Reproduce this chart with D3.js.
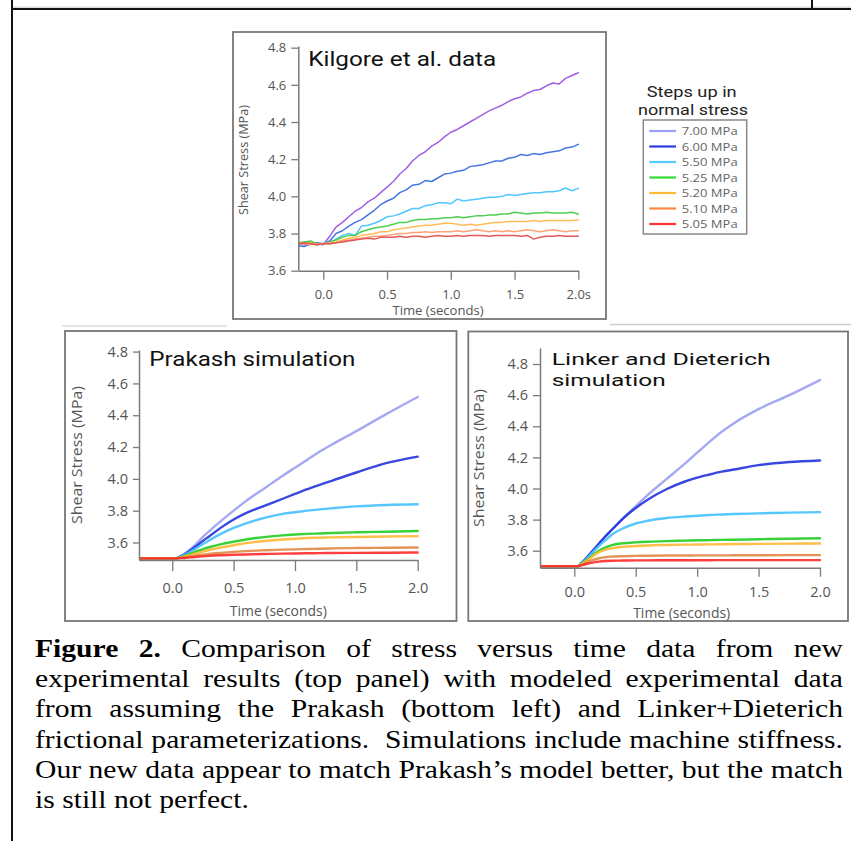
<!DOCTYPE html>
<html><head><meta charset="utf-8">
<script src="https://cdn.jsdelivr.net/npm/d3@7"></script>
<style>body{margin:0;background:#fff}svg{display:block}</style>
</head><body>
<svg id="c" width="851" height="841"></svg>
<script>
// ---------------- DATA ----------------
const legendLabels = ["7.00 MPa","6.00 MPa","5.50 MPa","5.25 MPa","5.20 MPa","5.10 MPa","5.05 MPa"];
const legendColors = ["#99a0f5","#2a3be0","#55ccff","#33dd33","#ffbb33","#ff8844","#ff3333"];
const topColors    = ["#9b59e0","#3b6fe0","#44c4ff","#44cc44","#ffb84d","#ff9e6e","#e05050"];
const simColors    = ["#9aa0f0","#2233dd","#44c0ff","#22cc22","#ffb733","#e08844","#ff2a2a"];

const yTickVals = [3.6,3.8,4.0,4.2,4.4,4.6,4.8];
const xTickVals = [0,0.5,1.0,1.5,2.0];
const topXLabels = ["0.0","0.5","1.0","1.5","2.0s"];
const simXLabels = ["0.0","0.5","1.0","1.5","2.0"];

// Kilgore et al. data (top panel)
const tTop = [-0.2,-0.15,-0.1,-0.05,0,0.05,0.1,0.15,0.2,0.25,0.3,0.35,0.4,0.45,0.5,0.55,0.6,0.65,0.7,0.75,0.8,0.85,0.9,0.95,1.0,1.05,1.1,1.15,1.2,1.25,1.3,1.35,1.4,1.45,1.5,1.55,1.6,1.65,1.7,1.75,1.8,1.85,1.9,1.95,2.0];
const kil700 = [3.745,3.74,3.75,3.745,3.74,3.785,3.835,3.86,3.89,3.92,3.94,3.97,3.99,4.02,4.05,4.08,4.12,4.15,4.19,4.22,4.24,4.27,4.29,4.32,4.345,4.36,4.38,4.40,4.42,4.44,4.46,4.475,4.49,4.51,4.525,4.535,4.555,4.57,4.575,4.595,4.61,4.605,4.635,4.65,4.665];
const kil600 = [3.735,3.73,3.745,3.75,3.745,3.76,3.80,3.815,3.84,3.86,3.875,3.90,3.925,3.955,3.975,3.99,4.02,4.035,4.06,4.065,4.085,4.08,4.10,4.12,4.125,4.135,4.14,4.16,4.165,4.17,4.18,4.19,4.19,4.205,4.21,4.225,4.22,4.23,4.225,4.235,4.24,4.245,4.26,4.265,4.28];
const kil550 = [3.745,3.75,3.745,3.74,3.745,3.75,3.77,3.79,3.80,3.79,3.84,3.845,3.855,3.87,3.89,3.895,3.905,3.92,3.935,3.935,3.95,3.955,3.965,3.965,3.96,3.985,3.975,3.98,3.985,3.99,3.995,3.995,4.0,4.01,4.005,4.01,4.015,4.02,4.02,4.025,4.025,4.03,4.045,4.03,4.043];
const kil525 = [3.75,3.755,3.76,3.745,3.745,3.755,3.765,3.78,3.79,3.79,3.81,3.82,3.83,3.835,3.84,3.85,3.86,3.86,3.87,3.875,3.875,3.88,3.88,3.885,3.885,3.89,3.885,3.89,3.895,3.895,3.9,3.9,3.905,3.905,3.915,3.91,3.905,3.91,3.91,3.915,3.91,3.91,3.91,3.915,3.905];
const kil520 = [3.745,3.745,3.75,3.74,3.745,3.75,3.755,3.765,3.775,3.78,3.79,3.795,3.80,3.81,3.81,3.82,3.825,3.83,3.835,3.84,3.845,3.845,3.85,3.855,3.855,3.85,3.845,3.85,3.845,3.85,3.855,3.86,3.86,3.865,3.865,3.865,3.865,3.87,3.865,3.87,3.87,3.87,3.87,3.87,3.873];
const kil510 = [3.75,3.745,3.74,3.745,3.745,3.745,3.75,3.76,3.765,3.77,3.775,3.78,3.785,3.785,3.79,3.795,3.80,3.80,3.805,3.805,3.81,3.805,3.81,3.81,3.81,3.815,3.81,3.815,3.82,3.815,3.81,3.815,3.81,3.815,3.81,3.815,3.82,3.815,3.81,3.815,3.82,3.815,3.81,3.815,3.815];
const kil505 = [3.745,3.75,3.745,3.74,3.745,3.745,3.75,3.755,3.76,3.765,3.77,3.775,3.77,3.78,3.78,3.78,3.785,3.78,3.785,3.785,3.78,3.785,3.79,3.785,3.785,3.79,3.785,3.79,3.79,3.79,3.785,3.79,3.79,3.79,3.79,3.785,3.79,3.77,3.78,3.785,3.785,3.79,3.785,3.785,3.785];

// Simulations (bottom panels)
const tSim = [-0.27,0.03,0.05,0.1,0.15,0.2,0.25,0.3,0.4,0.5,0.6,0.75,0.9,1.0,1.1,1.2,1.3,1.5,1.75,2.0];
const pra700 = [3.5,3.5,3.507,3.53,3.56,3.595,3.635,3.67,3.737,3.80,3.86,3.94,4.02,4.07,4.12,4.17,4.215,4.30,4.41,4.515];
const pra600 = [3.5,3.5,3.506,3.526,3.552,3.58,3.61,3.638,3.695,3.745,3.785,3.83,3.875,3.905,3.935,3.962,3.988,4.04,4.10,4.14];
const pra550 = [3.5,3.5,3.505,3.522,3.543,3.566,3.59,3.613,3.656,3.692,3.72,3.755,3.78,3.79,3.80,3.808,3.815,3.827,3.836,3.84];
const pra525 = [3.5,3.5,3.504,3.515,3.53,3.545,3.558,3.57,3.59,3.605,3.619,3.634,3.645,3.65,3.654,3.657,3.66,3.664,3.668,3.672];
const pra520 = [3.5,3.5,3.503,3.512,3.522,3.533,3.543,3.553,3.569,3.583,3.596,3.609,3.619,3.624,3.628,3.63,3.632,3.635,3.638,3.64];
const pra510 = [3.5,3.5,3.502,3.506,3.512,3.518,3.523,3.528,3.535,3.541,3.546,3.551,3.555,3.557,3.559,3.561,3.563,3.565,3.567,3.569];
const pra505 = [3.5,3.5,3.501,3.503,3.507,3.51,3.513,3.516,3.52,3.523,3.525,3.528,3.53,3.531,3.532,3.533,3.534,3.535,3.536,3.537];

const lin700 = [3.5,3.5,3.515,3.555,3.60,3.645,3.69,3.73,3.81,3.885,3.96,4.06,4.16,4.23,4.30,4.365,4.42,4.51,4.60,4.697];
const lin600 = [3.5,3.5,3.515,3.555,3.60,3.645,3.69,3.73,3.81,3.875,3.93,3.995,4.045,4.07,4.09,4.108,4.122,4.15,4.17,4.18];
const lin550 = [3.5,3.5,3.515,3.55,3.59,3.63,3.665,3.70,3.745,3.775,3.793,3.81,3.82,3.825,3.83,3.833,3.836,3.84,3.845,3.848];
const lin525 = [3.5,3.5,3.512,3.54,3.57,3.60,3.62,3.635,3.648,3.654,3.658,3.662,3.665,3.667,3.668,3.67,3.671,3.674,3.677,3.68];
const lin520 = [3.5,3.5,3.51,3.535,3.565,3.59,3.605,3.615,3.625,3.63,3.634,3.637,3.639,3.64,3.641,3.642,3.643,3.644,3.646,3.647];
const lin510 = [3.5,3.5,3.507,3.525,3.54,3.552,3.558,3.562,3.565,3.567,3.568,3.569,3.569,3.57,3.57,3.57,3.571,3.571,3.572,3.572];
const lin505 = [3.5,3.5,3.504,3.515,3.524,3.53,3.534,3.536,3.537,3.538,3.538,3.539,3.539,3.539,3.539,3.54,3.54,3.54,3.54,3.54];

const captionLines = [
  "Figure 2. Comparison of stress versus time data from new",
  "experimental results (top panel) with modeled experimental data",
  "from assuming the Prakash (bottom left) and Linker+Dieterich",
  "frictional parameterizations.  Simulations include machine stiffness.",
  "Our new data appear to match Prakash\u2019s model better, but the match",
  "is still not perfect."
];

// ---------------- DRAW ----------------
const svg = d3.select("#c");
const SANS = "'Open Sans', 'Noto Sans', sans-serif";
const TITLE = "Roboto, 'Open Sans', sans-serif";

// page frame
svg.append("line").attr("x1",12).attr("x2",851).attr("y1",7.2).attr("y2",7.2).attr("stroke","#ccc").attr("stroke-width",1);
svg.append("line").attr("x1",12).attr("x2",851).attr("y1",9).attr("y2",9).attr("stroke","#111").attr("stroke-width",2);
svg.append("line").attr("x1",12).attr("x2",12).attr("y1",0).attr("y2",841).attr("stroke","#111").attr("stroke-width",2);
svg.append("line").attr("x1",812).attr("x2",812).attr("y1",0).attr("y2",9).attr("stroke","#111").attr("stroke-width",2);
svg.append("line").attr("x1",62).attr("x2",227).attr("y1",326).attr("y2",326).attr("stroke","#ddd").attr("stroke-width",1.5);
svg.append("line").attr("x1",610).attr("x2",851).attr("y1",324.5).attr("y2",324.5).attr("stroke","#ccc").attr("stroke-width",1.5);

function textLine(parent, l, fs, fill, anchor){
  return parent.append("text").attr("font-family",TITLE).attr("font-size",fs).attr("fill",fill).attr("text-anchor",anchor||"start")
    .attr("x",l[1]).attr("y",l[2]).attr("textLength",l[3]).attr("lengthAdjust","spacingAndGlyphs").text(l[0]);
}

function panel(cfg){
  const g = svg.append("g");
  g.append("rect").attr("x",cfg.box[0]).attr("y",cfg.box[1]).attr("width",cfg.box[2]-cfg.box[0]).attr("height",cfg.box[3]-cfg.box[1])
    .attr("fill","none").attr("stroke","#777").attr("stroke-width",1.8);
  const x = d3.scaleLinear().domain(cfg.xd).range(cfg.xr);
  const y = d3.scaleLinear().domain(cfg.yd).range(cfg.yr);
  const id = "clip"+cfg.name;
  svg.append("clipPath").attr("id",id).append("rect")
    .attr("x",cfg.xr[0]).attr("y",cfg.yr[1]).attr("width",cfg.xr[1]-cfg.xr[0]+3).attr("height",cfg.yr[0]-cfg.yr[1]);
  const line = d3.line().x((d,i)=>x(cfg.t[i])).y(d=>y(d)).curve(cfg.curve);
  const lg = g.append("g").attr("clip-path",`url(#${id})`);
  cfg.series.forEach((s,k)=>{
    lg.append("path").attr("d",line(s)).attr("fill","none").attr("stroke",cfg.colors[k])
      .attr("stroke-width",cfg.sw).attr("stroke-linejoin","round").attr("stroke-linecap","round").attr("opacity",cfg.op);
  });
  const xa = d3.axisBottom(x).tickValues(xTickVals).tickFormat((d,i)=>cfg.xLabels[i])
    .tickSize(cfg.xts).tickSizeOuter(0).tickPadding(cfg.xpad);
  const ya = d3.axisLeft(y).tickValues(yTickVals).tickFormat(d3.format(".1f"))
    .tickSize(cfg.yts).tickSizeOuter(0).tickPadding(cfg.ypad);
  const gx = g.append("g").attr("transform",`translate(0,${cfg.yr[0]})`).call(xa);
  const gy = g.append("g").attr("transform",`translate(${cfg.xr[0]},0)`).call(ya);
  [gx,gy].forEach(a=>{
    a.attr("font-family",SANS).attr("font-size",cfg.fs);
    a.select(".domain").attr("stroke","#7a7a7a").attr("stroke-width",1.5);
    a.selectAll(".tick line").attr("stroke","#7a7a7a").attr("stroke-width",1.3);
    a.selectAll(".tick text").attr("fill","#555");
  });
  // axis titles
  g.append("text").attr("x",cfg.xt[0]).attr("y",cfg.xt[1]).attr("text-anchor","middle")
    .attr("font-family",SANS).attr("font-size",cfg.tfs).attr("fill","#555")
    .attr("textLength",cfg.xt[2]).attr("lengthAdjust","spacingAndGlyphs").text("Time (seconds)");
  g.append("text").attr("transform",`translate(${cfg.yt[0]},${cfg.yt[1]}) rotate(-90)`).attr("text-anchor","middle")
    .attr("font-family",SANS).attr("font-size",cfg.tfs).attr("fill","#555")
    .attr("textLength",cfg.yt[2]).attr("lengthAdjust","spacingAndGlyphs").text("Shear Stress (MPa)");
  cfg.title.forEach(l=>textLine(g, l, cfg.titleFS, "#111"));
}

panel({name:"top", box:[233,32,606,319], xd:[-0.196,2.0], xr:[298.3,578.3], yd:[3.6,4.809], yr:[270.7,46],
  t:tTop, series:[kil700,kil600,kil550,kil525,kil520,kil510,kil505], colors:topColors, sw:1.5, op:0.95,
  curve:d3.curveLinear, xLabels:topXLabels, xts:9, xpad:10, yts:7, ypad:5, fs:13, tfs:12,
  xt:[438,315,91], yt:[247.5,160,110], title:[["Kilgore et al. data",308.3,66,188]], titleFS:21});

panel({name:"pra", box:[65,331,456.5,621], xd:[-0.271,2.0], xr:[139,417.7], yd:[3.49,4.81], yr:[560,350],
  t:tSim, series:[pra700,pra600,pra550,pra525,pra520,pra510,pra505], colors:simColors, sw:2.4, op:0.9,
  curve:d3.curveMonotoneX, xLabels:simXLabels, xts:11, xpad:12, yts:6, ypad:5, fs:14.5, tfs:14,
  xt:[278.3,616,97], yt:[82,455,138], title:[["Prakash simulation",149.3,365.7,206]], titleFS:20.5});

panel({name:"lin", box:[468.3,331.5,848,621], xd:[-0.279,2.0], xr:[540,820], yd:[3.491,4.903], yr:[567.7,348],
  t:tSim, series:[lin700,lin600,lin550,lin525,lin520,lin510,lin505], colors:simColors, sw:2.4, op:0.9,
  curve:d3.curveMonotoneX, xLabels:simXLabels, xts:9, xpad:10, yts:7, ypad:5, fs:14.5, tfs:14,
  xt:[681.7,617.5,97], yt:[483.5,458,138],
  title:[["Linker and Dieterich",551.7,365.3,219],["simulation",551.7,385.8,114]], titleFS:17.2});

// legend
textLine(svg, ["Steps up in",691.7,97,90], 14.5, "#222", "middle");
textLine(svg, ["normal stress",693,115,110], 14.5, "#222", "middle");
svg.append("rect").attr("x",643.3).attr("y",120).attr("width",103.4).attr("height",114)
  .attr("fill","none").attr("stroke","#888").attr("stroke-width",1.5);
legendLabels.forEach((lab,i)=>{
  const yy = 131 + i*15.5;
  svg.append("line").attr("x1",649.3).attr("x2",676).attr("y1",yy).attr("y2",yy)
    .attr("stroke",legendColors[i]).attr("stroke-width",2.2);
  svg.append("text").attr("x",681.7).attr("y",yy).attr("dy","0.36em").attr("font-family",SANS)
    .attr("font-size",11.5).attr("fill","#666").attr("textLength",56).attr("lengthAdjust","spacingAndGlyphs").text(lab);
});

// caption (justified)
const SERIF = "'Liberation Serif','Times New Roman',serif";
const capFS = 26, capX = 35, capW = 808, capY0 = 657, capDY = 30.2;
const spaceW = capFS*0.25;
function wordsOf(line){ return line.split(/( +)/); }
const tmp = svg.append("g").attr("opacity",0);
function measure(w,bold){
  const t = tmp.append("text").attr("font-family",SERIF).attr("font-size",capFS).attr("font-weight",bold?"bold":"normal").text(w);
  const L = t.node().getComputedTextLength(); t.remove(); return L;
}
function layout(line, li){
  const parts = wordsOf(line);
  const words=[]; let gapsBefore=[]; let pending=0;
  parts.forEach(p=>{ if(/^ +$/.test(p)) pending+=p.length; else if(p.length){ words.push(p); gapsBefore.push(pending); pending=0; } });
  const bold = words.map((w,j)=> li===0 && j<2);
  const widths = words.map((w,j)=>measure(w,bold[j]));
  const W = d3.sum(widths), G = d3.sum(gapsBefore);
  return {words,gapsBefore,bold,widths,W,G};
}
const L5 = layout(captionLines[4],4);
const sx = capW/(L5.W + L5.G*spaceW);
captionLines.forEach((line,li)=>{
  const L = layout(line,li);
  const last = li===captionLines.length-1;
  const gap = last ? spaceW : (capW/sx - L.W)/L.G;
  const g = svg.append("g").attr("transform",`translate(${capX},${capY0+li*capDY}) scale(${sx},1)`);
  let cx = 0;
  L.words.forEach((w,j)=>{
    cx += L.gapsBefore[j]*gap;
    g.append("text").attr("x",cx).attr("y",0).attr("font-family",SERIF).attr("font-size",capFS)
      .attr("font-weight",L.bold[j]?"bold":"normal").attr("fill","#000").text(w);
    cx += L.widths[j];
  });
});
tmp.remove();
</script>
</body></html>
